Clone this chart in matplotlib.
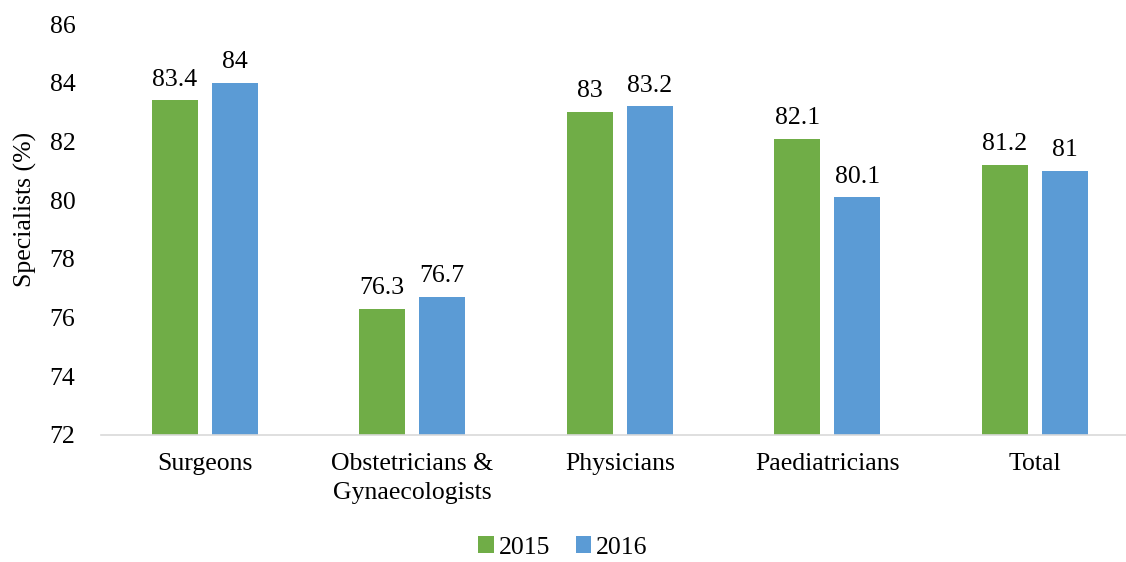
import numpy as np
import matplotlib.pyplot as plt

plt.rcParams['font.family'] = ['Liberation Serif', 'DejaVu Serif']
plt.rcParams['font.serif'] = ['Liberation Serif', 'DejaVu Serif']

categories = ['Surgeons', 'Obstetricians &\nGynaecologists', 'Physicians',
              'Paediatricians', 'Total']
years = ['2015', '2016']
values_2015 = [83.4, 76.3, 83.0, 82.1, 81.2]
values_2016 = [84.0, 76.7, 83.2, 80.1, 81.0]
labels_2015 = ['83.4', '76.3', '83', '82.1', '81.2']
labels_2016 = ['84', '76.7', '83.2', '80.1', '81']

green = '#70AD47'
blue = '#5B9BD5'
fs = 18.5

fig = plt.figure(figsize=(11.26, 5.62), dpi=100)
ax = fig.add_axes([0.0897, 0.226, 0.9103, 0.731])

x = np.arange(len(categories))
w = 0.222
off = (w + 0.067) / 2
b1 = ax.bar(x - off, values_2015, w, color=green, label=years[0])
b2 = ax.bar(x + off, values_2016, w, color=blue, label=years[1])

for bars, labs in [(b1, labels_2015), (b2, labels_2016)]:
    for rect, lab in zip(bars, labs):
        ax.annotate(lab, (rect.get_x() + rect.get_width() / 2, rect.get_height()),
                    xytext=(0, 7), textcoords='offset points',
                    ha='center', va='bottom', fontsize=fs)

ax.set_ylim(72, 86)
ax.set_yticks(np.arange(72, 87, 2))
ax.set_xlim(-0.5, 4.44)
ax.set_xticks(x)
ax.set_xticklabels(categories, fontsize=fs, linespacing=1.4)
ax.tick_params(axis='y', labelsize=fs, length=0, pad=37)
ax.tick_params(axis='x', length=0, pad=13)
for lab in ax.get_yticklabels():
    lab.set_horizontalalignment('left')
ax.set_ylabel('Specialists (%)', fontsize=fs)
ax.yaxis.set_label_coords(-0.062, 0.55)

for s in ['top', 'right', 'left']:
    ax.spines[s].set_visible(False)
ax.spines['bottom'].set_color('#D9D9D9')
ax.spines['bottom'].set_linewidth(1.2)

fig.legend(loc='lower center', bbox_to_anchor=(0.5, -0.035), ncol=2, frameon=False,
           fontsize=fs, handlelength=0.6, handleheight=0.6, handletextpad=0.2,
           columnspacing=1.0)

fig.savefig('out.png', dpi=100)
